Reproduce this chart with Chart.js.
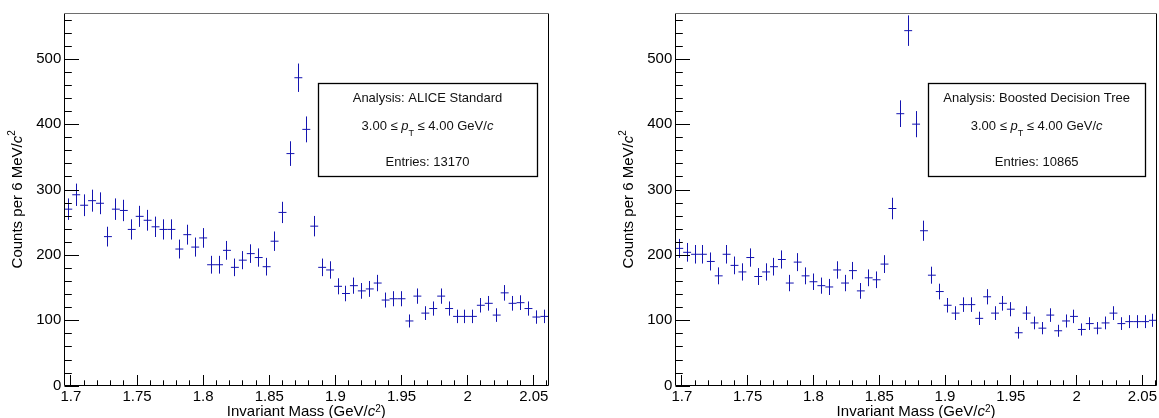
<!DOCTYPE html>
<html>
<head>
<meta charset="utf-8">
<script src="https://cdn.jsdelivr.net/npm/chart.js@4.4.0/dist/chart.umd.min.js"></script>
<style>
  html, body { margin: 0; padding: 0; background: #fff; }
  #wrap { position: relative; width: 1159px; height: 418px; overflow: hidden; }
  canvas { position: absolute; top: 0; }
</style>
</head>
<body>
<div id="wrap">
  <canvas id="aliceChart" width="580" height="418" style="left:0px"></canvas>
  <canvas id="bdtChart" width="579" height="418" style="left:580px"></canvas>
</div>
<script>
// Bin centres (GeV/c^2), 6 MeV bins from 1.695 to 2.061
const massBins = [
  1.698, 1.704, 1.710, 1.716, 1.722, 1.728, 1.734, 1.740, 1.746, 1.752,
  1.758, 1.764, 1.770, 1.776, 1.782, 1.788, 1.794, 1.800, 1.806, 1.812,
  1.818, 1.824, 1.830, 1.836, 1.842, 1.848, 1.854, 1.860, 1.866, 1.872,
  1.878, 1.884, 1.890, 1.896, 1.902, 1.908, 1.914, 1.920, 1.926, 1.932,
  1.938, 1.944, 1.950, 1.956, 1.962, 1.968, 1.974, 1.980, 1.986, 1.992,
  1.998, 2.004, 2.010, 2.016, 2.022, 2.028, 2.034, 2.040, 2.046, 2.052, 2.058
];
const binHalfWidth = 0.003;

// Counts per bin, ALICE standard selection
const aliceCounts = [
  270, 292, 276, 283, 279, 228, 270, 268, 239, 259,
  253, 243, 239, 239, 209, 231, 212, 226, 185, 185,
  207, 181, 192, 202, 196, 182, 221, 265, 355, 471,
  392, 244, 181, 177, 152, 141, 153, 145, 148, 157,
  131, 133, 133, 99, 137, 111, 118, 137, 118, 106,
  106, 106, 123, 126, 108, 142, 126, 127, 118, 105, 106
];

// Counts per bin, boosted decision tree selection
const bdtCounts = [
  210, 204, 201, 201, 190, 168, 201, 184, 174, 196,
  167, 174, 182, 193, 157, 189, 168, 159, 153, 151,
  177, 157, 176, 145, 165, 162, 186, 271, 416, 543,
  400, 237, 169, 144, 123, 111, 124, 124, 103, 136,
  111, 126, 117, 81, 111, 96, 88, 108, 84, 99,
  106, 86, 95, 88, 96, 111, 95, 98, 98, 98, 100
];

const xTickValues = [1.7, 1.75, 1.8, 1.85, 1.9, 1.95, 2, 2.05];
const yTickValues = [0, 100, 200, 300, 400, 500];

const aliceLabel = "Analysis: ALICE Standard";
const aliceEntries = "Entries: 13170";
const bdtLabel = "Analysis: Boosted Decision Tree";
const bdtEntries = "Entries: 10865";

const FAMILY = '"Liberation Sans", Arial, Helvetica, sans-serif';
const MARKER = '#1414b0';

function fontStr(size, italic) {
  return (italic ? 'italic ' : '') + size + 'px ' + FAMILY;
}

// draw text pieces [text, size, italic, dy] centred at x
function drawRich(ctx, parts, x, y) {
  let total = 0;
  const widths = parts.map(p => {
    ctx.font = fontStr(p[1], p[2]);
    const w = ctx.measureText(p[0]).width;
    total += w;
    return w;
  });
  let cx = x - total / 2;
  ctx.textAlign = 'left';
  ctx.textBaseline = 'alphabetic';
  parts.forEach((p, i) => {
    ctx.font = fontStr(p[1], p[2]);
    ctx.fillText(p[0], cx, y + (p[3] || 0));
    cx += widths[i];
  });
}

const rootPlugin = {
  id: 'rootHist',
  afterDatasetsDraw(chart) {
    const xs = chart.scales.x, ys = chart.scales.y;
    const ds = chart.data.datasets[0];
    const ctx = chart.ctx;
    ctx.save();
    ctx.strokeStyle = MARKER;
    ctx.lineWidth = 1;
    ctx.beginPath();
    ds.data.forEach(p => {
      const err = Math.sqrt(p.y);
      const px = Math.floor(xs.getPixelForValue(p.x)) + 0.5;
      const py = ys.getPixelForValue(p.y);
      ctx.moveTo(px, ys.getPixelForValue(p.y - err));
      ctx.lineTo(px, ys.getPixelForValue(p.y + err));
      ctx.moveTo(xs.getPixelForValue(p.x - binHalfWidth), py);
      ctx.lineTo(xs.getPixelForValue(p.x + binHalfWidth), py);
    });
    ctx.stroke();
    ctx.restore();
  },
  afterDraw(chart, args, opts) {
    const ctx = chart.ctx;
    const a = chart.chartArea;
    const xs = chart.scales.x, ys = chart.scales.y;
    const L = Math.floor(a.left) + 0.5, R = Math.ceil(a.right) - 0.5;
    const T = Math.floor(a.top) + 0.5, B = Math.floor(a.bottom) + 0.5;
    ctx.save();
    ctx.lineWidth = 1;

    // frame
    ctx.strokeStyle = '#000';
    ctx.beginPath();
    ctx.moveTo(L, T); ctx.lineTo(L, B); ctx.lineTo(R, B); ctx.lineTo(R, T);
    ctx.stroke();
    ctx.strokeStyle = '#6e6e6e';
    ctx.beginPath();
    ctx.moveTo(L, T); ctx.lineTo(R, T);
    ctx.stroke();

    // ticks inside the frame
    ctx.strokeStyle = '#000';
    ctx.beginPath();
    for (let v = 0; v <= ys.max; v += 20) {
      const y = Math.round(ys.getPixelForValue(v)) + 0.5;
      const len = (v % 100 === 0) ? 14.5 : 7.3;
      ctx.moveTo(L, y); ctx.lineTo(L + len, y);
    }
    for (let k = 170; k <= 206; k++) {
      const v = k / 100;
      if (v < xs.min || v > xs.max) continue;
      const x = Math.floor(xs.getPixelForValue(v)) + 0.5;
      const len = (k % 5 === 0) ? 10.5 : 5.2;
      ctx.moveTo(x, B); ctx.lineTo(x, B - len);
    }
    ctx.stroke();

    // axis titles
    ctx.fillStyle = '#000';
    drawRich(ctx, [
      ['Invariant Mass (GeV/', 15, false],
      ['c', 15, true],
      ['2', 10, false, -4],
      [')', 15, false]
    ], (a.left + a.right) / 2, 416);

    ctx.save();
    ctx.translate(a.left - 47, (a.top + a.bottom) / 2);
    ctx.rotate(-Math.PI / 2);
    drawRich(ctx, [
      ['Counts per 6 MeV/', 15, false, 5],
      ['c', 15, true, 5],
      ['2', 10, false, -2]
    ], 0, 0);
    ctx.restore();

    // info box
    const w = a.right - a.left, h = a.bottom - a.top;
    const bx0 = a.left + 0.5248 * w, bx1 = a.left + 0.976 * w;
    const by0 = a.top + 0.187 * h, by1 = a.top + 0.437 * h;
    const X0 = Math.round(bx0) + 0.5, X1 = Math.round(bx1) + 0.5;
    const Y0 = Math.round(by0) + 0.5, Y1 = Math.round(by1) + 0.5;
    ctx.fillStyle = '#fff';
    ctx.fillRect(X0, Y0, X1 - X0, Y1 - Y0);
    ctx.strokeStyle = '#000';
    ctx.lineWidth = 1.3;
    ctx.strokeRect(X0, Y0, X1 - X0, Y1 - Y0);
    ctx.fillStyle = '#111';
    const cx = (bx0 + bx1) / 2, bh = by1 - by0;
    drawRich(ctx, [[opts.title, 13, false]], cx, by0 + 0.16 * bh + 4.5);
    drawRich(ctx, [
      ['3.00 \u2264 ', 13, false],
      ['p', 13, true],
      ['T', 9, false, 6],
      [' \u2264 4.00 GeV/', 13, false],
      ['c', 13, true]
    ], cx, by0 + 0.464 * bh + 4.5);
    drawRich(ctx, [[opts.entries, 13, false]], cx, by0 + 0.847 * bh + 4.5);
    ctx.restore();
  }
};

function makeChart(id, counts, title, entries, axisWidth, rightPad) {
  return new Chart(document.getElementById(id), {
    type: 'scatter',
    data: {
      datasets: [{
        data: massBins.map((m, i) => ({ x: m, y: counts[i] })),
        borderColor: MARKER,
        backgroundColor: MARKER,
        pointRadius: 0,
        showLine: false
      }]
    },
    options: {
      responsive: false,
      animation: false,
      devicePixelRatio: 1,
      layout: { padding: { top: 13, right: rightPad, left: 0, bottom: 0 } },
      plugins: {
        legend: { display: false },
        tooltip: { enabled: false },
        rootHist: { title: title, entries: entries }
      },
      scales: {
        x: {
          type: 'linear',
          min: 1.695,
          max: 2.061,
          grid: { display: false, drawTicks: false },
          border: { display: false },
          afterBuildTicks: s => { s.ticks = xTickValues.map(v => ({ value: v })); },
          afterFit: s => { s.height = 32.3; },
          ticks: {
            padding: 2,
            color: '#000',
            maxRotation: 0,
            autoSkip: false,
            font: { family: FAMILY, size: 15 },
            callback: v => String(+v.toFixed(2))
          }
        },
        y: {
          min: 0,
          max: 570,
          grid: { display: false, drawTicks: false },
          border: { display: false },
          afterBuildTicks: s => { s.ticks = yTickValues.map(v => ({ value: v })); },
          afterFit: s => { s.width = axisWidth; },
          ticks: {
            padding: 3,
            color: '#000',
            font: { family: FAMILY, size: 15 },
            callback: v => String(v)
          }
        }
      }
    },
    plugins: [rootPlugin]
  });
}

makeChart('aliceChart', aliceCounts, aliceLabel, aliceEntries, 64.3, 31.7);
makeChart('bdtChart', bdtCounts, bdtLabel, bdtEntries, 95.3, 0);
</script>
</body>
</html>
